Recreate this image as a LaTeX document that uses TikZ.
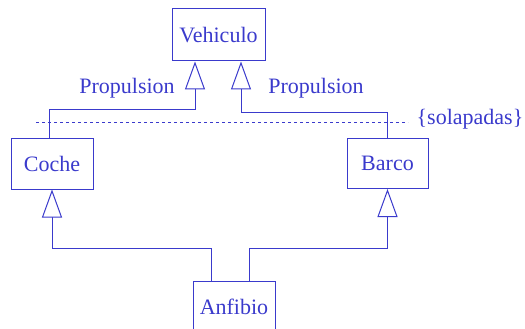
\documentclass[tikz,border=0pt]{standalone}
\usepackage{fontspec}
\setmainfont{Liberation Serif}
\usetikzlibrary{arrows.meta}
\definecolor{umlblue}{RGB}{58,58,204}
\tikzset{
  box/.style={draw=umlblue, line width=1pt, inner sep=0pt, text=umlblue,
              font=\fontsize{22}{24}\selectfont},
  gen/.style={draw=umlblue, line width=1pt,
              -{Triangle[open, length=28pt, width=20pt, fill=white]}},
  lbl/.style={text=umlblue, font=\fontsize{22}{24}\selectfont, inner sep=0pt}
}
\begin{document}
\begin{tikzpicture}[x=1pt,y=-1pt]
\useasboundingbox (0,0) rectangle (525,329);
\begin{scope}
\clip (0,0) rectangle (525,329);
% classes
\node[box, minimum width=93pt, minimum height=52pt] (veh) at (218.5,35) {Vehiculo};
\node[box, minimum width=82pt, minimum height=51pt] (coche) at (52,163.5) {Coche};
\node[box, minimum width=81pt, minimum height=50pt] (barco) at (387.5,163.5) {Barco};
\node[box, minimum width=82pt, minimum height=52pt] (anf) at (234,307) {Anfibio};

% generalisations towards Vehiculo
\draw[gen] ([xshift=-3pt]coche.north) -- ++(0,-28) -| ([xshift=-23.5pt]veh.south);
\draw[gen] (barco.north) -- ++(0,-26) -| ([xshift=22.5pt]veh.south);

% Anfibio inherits from Coche and Barco
\draw[gen] ([xshift=-23pt]anf.north) -- ++(0,-32) -| (coche.south);
\draw[gen] ([xshift=15pt]anf.north) -- ++(0,-32) -| (barco.south);

% discriminators and constraint
\node[lbl] (pl) at (127,88) {Propulsion};
\node[lbl] (pr) at (316,88) {Propulsion};
\coordinate (d1) at (36,122);
\coordinate (d2) at (408,122);
\draw[umlblue, line width=0.9pt, dash pattern=on 3pt off 3pt] (d1) -- (d2);
\node[lbl] (sol) at (470,119) {\{solapadas\}};
\end{scope}
\end{tikzpicture}
\end{document}
